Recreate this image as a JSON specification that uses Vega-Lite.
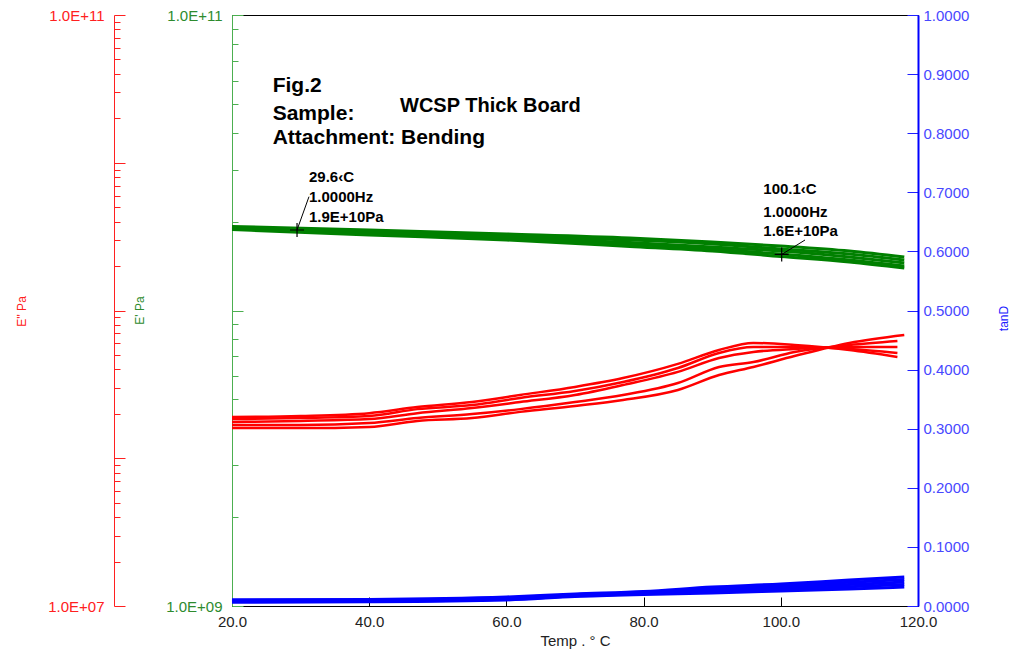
{
  "$schema": "https://vega.github.io/schema/vega-lite/v6.json",
  "width": 686,
  "height": 591,
  "autosize": "none",
  "padding": {"left": 232, "top": 15, "right": 95, "bottom": 46},
  "background": "white",
  "config": {
    "view": {"stroke": "black", "strokeWidth": 1},
    "axis": {"labelFont": "Liberation Sans", "titleFont": "Liberation Sans", "grid": false, "labelFlush": false, "labelOverlap": false}
  },
  "datasets": {
    "eloss": [
      {"s": "A", "t": 20, "v": 1.90e8}, {"s": "A", "t": 30, "v": 1.93e8}, {"s": "A", "t": 40, "v": 2.02e8}, {"s": "A", "t": 47, "v": 2.22e8}, {"s": "A", "t": 55, "v": 2.40e8}, {"s": "A", "t": 62, "v": 2.68e8}, {"s": "A", "t": 70, "v": 3.04e8}, {"s": "A", "t": 77, "v": 3.49e8}, {"s": "A", "t": 85, "v": 4.35e8}, {"s": "A", "t": 91, "v": 5.40e8}, {"s": "A", "t": 96, "v": 6.03e8}, {"s": "A", "t": 102, "v": 5.84e8}, {"s": "A", "t": 110, "v": 5.40e8}, {"s": "A", "t": 117, "v": 4.85e8},
      {"s": "B", "t": 20, "v": 1.84e8}, {"s": "B", "t": 30, "v": 1.87e8}, {"s": "B", "t": 40, "v": 1.93e8}, {"s": "B", "t": 47, "v": 2.15e8}, {"s": "B", "t": 55, "v": 2.29e8}, {"s": "B", "t": 62, "v": 2.56e8}, {"s": "B", "t": 70, "v": 2.85e8}, {"s": "B", "t": 77, "v": 3.28e8}, {"s": "B", "t": 85, "v": 4.08e8}, {"s": "B", "t": 91, "v": 5.16e8}, {"s": "B", "t": 96, "v": 5.66e8}, {"s": "B", "t": 102, "v": 5.66e8}, {"s": "B", "t": 110, "v": 5.49e8}, {"s": "B", "t": 117, "v": 5.16e8},
      {"s": "C", "t": 20, "v": 1.76e8}, {"s": "C", "t": 30, "v": 1.79e8}, {"s": "C", "t": 40, "v": 1.84e8}, {"s": "C", "t": 47, "v": 2.02e8}, {"s": "C", "t": 55, "v": 2.19e8}, {"s": "C", "t": 62, "v": 2.40e8}, {"s": "C", "t": 70, "v": 2.68e8}, {"s": "C", "t": 77, "v": 3.13e8}, {"s": "C", "t": 85, "v": 3.84e8}, {"s": "C", "t": 91, "v": 4.77e8}, {"s": "C", "t": 96, "v": 5.24e8}, {"s": "C", "t": 102, "v": 5.49e8}, {"s": "C", "t": 110, "v": 5.66e8}, {"s": "C", "t": 117, "v": 5.66e8},
      {"s": "D", "t": 20, "v": 1.68e8}, {"s": "D", "t": 30, "v": 1.68e8}, {"s": "D", "t": 40, "v": 1.73e8}, {"s": "D", "t": 47, "v": 1.87e8}, {"s": "D", "t": 55, "v": 1.99e8}, {"s": "D", "t": 62, "v": 2.15e8}, {"s": "D", "t": 70, "v": 2.40e8}, {"s": "D", "t": 77, "v": 2.68e8}, {"s": "D", "t": 85, "v": 3.23e8}, {"s": "D", "t": 91, "v": 4.15e8}, {"s": "D", "t": 96, "v": 4.48e8}, {"s": "D", "t": 102, "v": 5.24e8}, {"s": "D", "t": 110, "v": 5.84e8}, {"s": "D", "t": 117, "v": 6.22e8},
      {"s": "E", "t": 20, "v": 1.60e8}, {"s": "E", "t": 30, "v": 1.60e8}, {"s": "E", "t": 40, "v": 1.63e8}, {"s": "E", "t": 47, "v": 1.79e8}, {"s": "E", "t": 55, "v": 1.87e8}, {"s": "E", "t": 62, "v": 2.06e8}, {"s": "E", "t": 70, "v": 2.26e8}, {"s": "E", "t": 77, "v": 2.48e8}, {"s": "E", "t": 85, "v": 2.90e8}, {"s": "E", "t": 91, "v": 3.66e8}, {"s": "E", "t": 96, "v": 4.15e8}, {"s": "E", "t": 102, "v": 4.92e8}, {"s": "E", "t": 110, "v": 6.03e8}, {"s": "E", "t": 118, "v": 6.83e8}
    ],
    "estore": [
      {"s": "G1", "t": 20, "v": 1.925e10}, {"s": "G1", "t": 40, "v": 1.873e10}, {"s": "G1", "t": 60, "v": 1.815e10}, {"s": "G1", "t": 78, "v": 1.759e10}, {"s": "G1", "t": 90, "v": 1.705e10}, {"s": "G1", "t": 100, "v": 1.653e10}, {"s": "G1", "t": 110, "v": 1.590e10}, {"s": "G1", "t": 118, "v": 1.517e10},
      {"s": "G2", "t": 20, "v": 1.914e10}, {"s": "G2", "t": 40, "v": 1.851e10}, {"s": "G2", "t": 60, "v": 1.787e10}, {"s": "G2", "t": 78, "v": 1.732e10}, {"s": "G2", "t": 90, "v": 1.679e10}, {"s": "G2", "t": 100, "v": 1.615e10}, {"s": "G2", "t": 110, "v": 1.553e10}, {"s": "G2", "t": 118, "v": 1.482e10},
      {"s": "G3", "t": 20, "v": 1.902e10}, {"s": "G3", "t": 40, "v": 1.829e10}, {"s": "G3", "t": 60, "v": 1.766e10}, {"s": "G3", "t": 78, "v": 1.699e10}, {"s": "G3", "t": 90, "v": 1.640e10}, {"s": "G3", "t": 100, "v": 1.590e10}, {"s": "G3", "t": 110, "v": 1.517e10}, {"s": "G3", "t": 118, "v": 1.448e10},
      {"s": "G4", "t": 20, "v": 1.891e10}, {"s": "G4", "t": 40, "v": 1.815e10}, {"s": "G4", "t": 60, "v": 1.746e10}, {"s": "G4", "t": 78, "v": 1.673e10}, {"s": "G4", "t": 90, "v": 1.615e10}, {"s": "G4", "t": 100, "v": 1.553e10}, {"s": "G4", "t": 110, "v": 1.482e10}, {"s": "G4", "t": 118, "v": 1.414e10},
      {"s": "G5", "t": 20, "v": 1.880e10}, {"s": "G5", "t": 40, "v": 1.801e10}, {"s": "G5", "t": 60, "v": 1.732e10}, {"s": "G5", "t": 78, "v": 1.647e10}, {"s": "G5", "t": 90, "v": 1.590e10}, {"s": "G5", "t": 100, "v": 1.523e10}, {"s": "G5", "t": 110, "v": 1.459e10}, {"s": "G5", "t": 118, "v": 1.392e10}
    ],
    "tand": [
      {"s": "T1", "t": 20, "tan": 0.0105}, {"s": "T1", "t": 40, "tan": 0.0112}, {"s": "T1", "t": 60, "tan": 0.0152}, {"s": "T1", "t": 70, "tan": 0.0203}, {"s": "T1", "t": 80, "tan": 0.0245}, {"s": "T1", "t": 90, "tan": 0.0321}, {"s": "T1", "t": 100, "tan": 0.0372}, {"s": "T1", "t": 110, "tan": 0.0440}, {"s": "T1", "t": 118, "tan": 0.0491},
      {"s": "T2", "t": 20, "tan": 0.0095}, {"s": "T2", "t": 40, "tan": 0.0102}, {"s": "T2", "t": 60, "tan": 0.0139}, {"s": "T2", "t": 70, "tan": 0.0192}, {"s": "T2", "t": 80, "tan": 0.0232}, {"s": "T2", "t": 90, "tan": 0.0296}, {"s": "T2", "t": 100, "tan": 0.0343}, {"s": "T2", "t": 110, "tan": 0.0402}, {"s": "T2", "t": 118, "tan": 0.0448},
      {"s": "T3", "t": 20, "tan": 0.0085}, {"s": "T3", "t": 40, "tan": 0.0092}, {"s": "T3", "t": 60, "tan": 0.0127}, {"s": "T3", "t": 70, "tan": 0.0182}, {"s": "T3", "t": 80, "tan": 0.0220}, {"s": "T3", "t": 90, "tan": 0.0271}, {"s": "T3", "t": 100, "tan": 0.0313}, {"s": "T3", "t": 110, "tan": 0.0364}, {"s": "T3", "t": 118, "tan": 0.0406},
      {"s": "T4", "t": 20, "tan": 0.0075}, {"s": "T4", "t": 40, "tan": 0.0082}, {"s": "T4", "t": 60, "tan": 0.0114}, {"s": "T4", "t": 70, "tan": 0.0171}, {"s": "T4", "t": 80, "tan": 0.0207}, {"s": "T4", "t": 90, "tan": 0.0245}, {"s": "T4", "t": 100, "tan": 0.0284}, {"s": "T4", "t": 110, "tan": 0.0326}, {"s": "T4", "t": 118, "tan": 0.0364},
      {"s": "T5", "t": 20, "tan": 0.0064}, {"s": "T5", "t": 40, "tan": 0.0072}, {"s": "T5", "t": 60, "tan": 0.0102}, {"s": "T5", "t": 70, "tan": 0.0161}, {"s": "T5", "t": 80, "tan": 0.0195}, {"s": "T5", "t": 90, "tan": 0.0220}, {"s": "T5", "t": 100, "tan": 0.0254}, {"s": "T5", "t": 110, "tan": 0.0288}, {"s": "T5", "t": 118, "tan": 0.0321}
    ],
    "notes": [
      {"kind": "head", "t": 25.93, "tan": 0.8697, "label": "Fig.2"},
      {"kind": "head", "t": 25.93, "tan": 0.8223, "label": "Sample:"},
      {"kind": "head", "t": 25.93, "tan": 0.7817, "label": "Attachment: Bending"},
      {"kind": "sample", "t": 44.49, "tan": 0.8359, "label": "WCSP Thick Board"},
      {"kind": "cursor", "t": 31.22, "tan": 0.7179, "label": "29.6‹C"},
      {"kind": "cursor", "t": 31.22, "tan": 0.6836, "label": "1.0000Hz"},
      {"kind": "cursor", "t": 31.22, "tan": 0.6503, "label": "1.9E+10Pa"},
      {"kind": "cursor", "t": 97.45, "tan": 0.6966, "label": "100.1‹C"},
      {"kind": "cursor", "t": 97.45, "tan": 0.6587, "label": "1.0000Hz"},
      {"kind": "cursor", "t": 97.45, "tan": 0.6261, "label": "1.6E+10Pa"}
    ],
    "leaders": [
      {"t": 29.48, "tan": 0.6362, "t2": 31.22, "tan2": 0.6926},
      {"t": 100.13, "tan": 0.5948, "t2": 103.53, "tan2": 0.6193}
    ],
    "cursors": [
      {"t": 29.48, "tan": 0.6362},
      {"t": 100.13, "tan": 0.5948}
    ]
  },
  "encoding": {
    "x": {
      "field": "t",
      "type": "quantitative",
      "scale": {"domain": [20, 120], "nice": false, "zero": false},
      "axis": {
        "values": [20, 40, 60, 80, 100, 120],
        "format": ".1f",
        "tickSize": -9,
        "tickColor": "black",
        "domainColor": "black",
        "labelColor": "#222222",
        "labelFontSize": 15,
        "labelPadding": 17,
        "title": "Temp . °  C",
        "titleFontSize": 15,
        "titleFontWeight": "normal",
        "titleColor": "#222222",
        "titleY": 34,
        "titleBaseline": "middle"
      }
    }
  },
  "layer": [
    {
      "data": {"name": "eloss"},
      "mark": {"type": "line", "color": "#ff0000", "strokeWidth": 2.5, "interpolate": "monotone"},
      "encoding": {
        "detail": {"field": "s"},
        "y": {
          "field": "v",
          "type": "quantitative",
          "scale": {"type": "log", "domain": [1e7, 1e11], "nice": false},
          "axis": {
            "orient": "left",
            "offset": 118,
            "values": [1e7, 2e7, 3e7, 4e7, 5e7, 6e7, 7e7, 8e7, 9e7, 1e8, 2e8, 3e8, 4e8, 5e8, 6e8, 7e8, 8e8, 9e8, 1e9, 2e9, 3e9, 4e9, 5e9, 6e9, 7e9, 8e9, 9e9, 1e10, 2e10, 3e10, 4e10, 5e10, 6e10, 7e10, 8e10, 9e10, 1e11],
            "labelExpr": "datum.value >= 9.9e10 ? '1.0E+11' : (datum.value <= 1.01e7 ? '1.0E+07' : '')",
            "tickSize": {"condition": {"test": "abs(log(datum.value)/LN10 - round(log(datum.value)/LN10)) < 0.01", "value": -11}, "value": -6},
            "tickColor": "#ff2020",
            "domainColor": "#ff2020",
            "labelColor": "#ff2020",
            "labelFontSize": 15,
            "labelPadding": 21,
            "title": "E'' Pa",
            "titleColor": "#ff2020",
            "titleFontSize": 12,
            "titleFontWeight": "normal",
            "titleAngle": 270,
            "titleAlign": "center",
            "titleBaseline": "middle",
            "titleX": -93,
            "titleY": 296
          }
        }
      }
    },
    {
      "data": {"name": "estore"},
      "mark": {"type": "line", "color": "#008000", "strokeWidth": 3, "interpolate": "monotone"},
      "encoding": {
        "detail": {"field": "s"},
        "y": {
          "field": "v",
          "type": "quantitative",
          "scale": {"type": "log", "domain": [1e9, 1e11], "nice": false},
          "axis": {
            "orient": "left",
            "values": [1e9, 2e9, 3e9, 4e9, 5e9, 6e9, 7e9, 8e9, 9e9, 1e10, 2e10, 3e10, 4e10, 5e10, 6e10, 7e10, 8e10, 9e10, 1e11],
            "labelExpr": "datum.value >= 9.9e10 ? '1.0E+11' : (datum.value <= 1.01e9 ? '1.0E+09' : '')",
            "tickSize": {"condition": {"test": "abs(log(datum.value)/LN10 - round(log(datum.value)/LN10)) < 0.01", "value": -11}, "value": -6},
            "tickColor": "#4caf50",
            "domainColor": "#4caf50",
            "labelColor": "#2e8b2e",
            "labelFontSize": 15,
            "labelPadding": 21,
            "title": "E' Pa",
            "titleColor": "#2e8b2e",
            "titleFontSize": 12,
            "titleFontWeight": "normal",
            "titleAngle": 270,
            "titleAlign": "center",
            "titleBaseline": "middle",
            "titleX": -93,
            "titleY": 295
          }
        }
      }
    },
    {
      "data": {"name": "tand"},
      "mark": {"type": "line", "color": "#0000ff", "strokeWidth": 3, "interpolate": "monotone"},
      "encoding": {
        "detail": {"field": "s"},
        "y": {
          "field": "tan",
          "type": "quantitative",
          "scale": {"domain": [0, 1], "nice": false},
          "axis": {
            "orient": "right",
            "values": [0, 0.1, 0.2, 0.3, 0.4, 0.5, 0.6, 0.7, 0.8, 0.9, 1],
            "format": ".4f",
            "tickSize": -11,
            "tickColor": "#2020ff",
            "domainColor": "#0000ff",
            "domainWidth": 2,
            "labelColor": "#4848ff",
            "labelFontSize": 15,
            "labelPadding": 16,
            "title": "tanD",
            "titleColor": "#2020ff",
            "titleFontSize": 12,
            "titleFontWeight": "normal",
            "titleAngle": 270,
            "titleAlign": "center",
            "titleBaseline": "middle",
            "titleX": 85,
            "titleY": 303
          }
        }
      }
    },
    {
      "data": {"name": "notes"},
      "transform": [{"filter": "datum.kind == 'head'"}],
      "mark": {"type": "text", "font": "Liberation Sans", "fontWeight": "bold", "fontSize": 21, "align": "left", "baseline": "alphabetic", "color": "black"},
      "encoding": {
        "y": {"field": "tan", "type": "quantitative", "scale": {"domain": [0, 1], "nice": false}, "axis": null},
        "text": {"field": "label"}
      }
    },
    {
      "data": {"name": "notes"},
      "transform": [{"filter": "datum.kind == 'sample'"}],
      "mark": {"type": "text", "font": "Liberation Sans", "fontWeight": "bold", "fontSize": 20, "align": "left", "baseline": "alphabetic", "color": "black"},
      "encoding": {
        "y": {"field": "tan", "type": "quantitative", "scale": {"domain": [0, 1], "nice": false}, "axis": null},
        "text": {"field": "label"}
      }
    },
    {
      "data": {"name": "notes"},
      "transform": [{"filter": "datum.kind == 'cursor'"}],
      "mark": {"type": "text", "font": "Liberation Sans", "fontWeight": "bold", "fontSize": 15, "align": "left", "baseline": "alphabetic", "color": "black"},
      "encoding": {
        "y": {"field": "tan", "type": "quantitative", "scale": {"domain": [0, 1], "nice": false}, "axis": null},
        "text": {"field": "label"}
      }
    },
    {
      "data": {"name": "leaders"},
      "mark": {"type": "rule", "color": "black", "strokeWidth": 1},
      "encoding": {
        "x2": {"field": "t2"},
        "y": {"field": "tan", "type": "quantitative", "scale": {"domain": [0, 1], "nice": false}, "axis": null},
        "y2": {"field": "tan2"}
      }
    },
    {
      "data": {"name": "cursors"},
      "mark": {"type": "point", "shape": "M-1,0L1,0M0,-1L0,1", "filled": false, "color": "black", "strokeWidth": 1.2, "size": 196, "opacity": 1},
      "encoding": {
        "y": {"field": "tan", "type": "quantitative", "scale": {"domain": [0, 1], "nice": false}, "axis": null}
      }
    }
  ],
  "resolve": {"scale": {"y": "independent"}, "axis": {"y": "independent"}}
}
